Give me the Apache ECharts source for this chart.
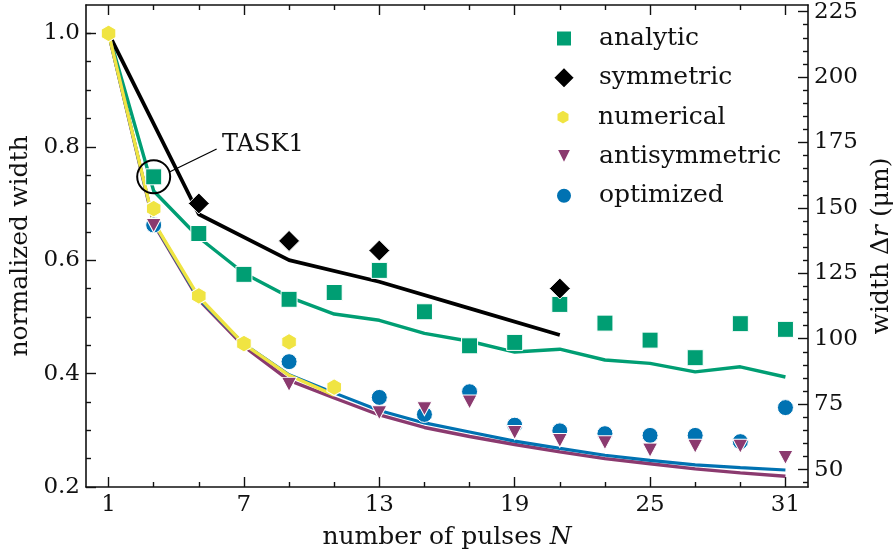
<!DOCTYPE html>
<html>
<head>
<meta charset="utf-8">
<script src="https://cdn.jsdelivr.net/npm/echarts@6/dist/echarts.min.js"></script>
<style>
  html, body { margin: 0; padding: 0; background: #fff; }
  #chart { width: 893px; height: 559px; }
</style>
</head>
<body>
<div id="chart"></div>
<script>
// number of pulses N (odd values)
const pulses = [1, 3, 5, 7, 9, 11, 13, 15, 17, 19, 21, 23, 25, 27, 29, 31];

// measured widths (normalized); null = not measured
const analyticPts = [null, 0.747, 0.647, 0.575, 0.531, 0.543, 0.582, 0.509, 0.449, 0.455, 0.522, 0.489, 0.459, 0.428, 0.488, 0.478];
const symmetricPts = [null, null, 0.700, null, 0.634, null, 0.617, null, null, null, 0.550, null, null, null, null, null];
const numericalPts = [1.0, 0.691, 0.537, 0.453, 0.456, 0.376, null, null, null, null, null, null, null, null, null, null];
const antisymPts = [null, 0.661, null, null, 0.381, null, 0.331, 0.338, 0.350, 0.296, 0.282, 0.278, 0.265, 0.272, 0.272, 0.252];
const optimizedPts = [null, 0.662, null, null, 0.421, null, 0.358, 0.328, 0.368, 0.309, 0.299, 0.294, 0.291, 0.291, 0.280, 0.340];

// model curves (normalized)
const analyticFit = [1.0, 0.722, 0.640, 0.577, 0.535, 0.505, 0.494, 0.471, 0.457, 0.438, 0.443, 0.424, 0.418, 0.403, 0.412, 0.394];
const symmetricFit = [1.0, null, 0.681, null, 0.600, null, 0.562, null, 0.515, null, 0.468, null, null, null, null, null];
const numericalFit = [1.0, 0.667, 0.535, 0.452, 0.397, 0.362, null, null, null, null, null, null, null, null, null, null];
const optimizedFit = [1.0, 0.666, 0.532, 0.452, 0.398, 0.366, 0.335, 0.313, 0.297, 0.281, 0.268, 0.256, 0.247, 0.239, 0.234, 0.230];
const antisymFit = [1.0, 0.664, 0.530, 0.448, 0.388, 0.357, 0.327, 0.305, 0.289, 0.275, 0.262, 0.250, 0.241, 0.232, 0.225, 0.219];

// tick values
const xMajorTicks = [1, 7, 13, 19, 25, 31];
const xMinorTicks = [3, 5, 9, 11, 15, 17, 21, 23, 27, 29];
const yMajorTicks = [0.2, 0.4, 0.6, 0.8, 1.0];
const yMinorTicks = [0.25, 0.3, 0.35, 0.45, 0.5, 0.55, 0.65, 0.7, 0.75, 0.85, 0.9, 0.95, 1.0];
const rMajorTicks = [50, 75, 100, 125, 150, 175, 200, 225];
const rMinorTicks = [45, 55, 60, 65, 70, 80, 85, 90, 95, 105, 110, 115, 120, 130, 135, 140, 145, 155, 160, 165, 170, 180, 185, 190, 195, 205, 210, 215, 220];

// width in micrometres that corresponds to normalized width 1
const widthScale = 216.7;

const FONT = 'DejaVu Serif';
const INK = '#111111';
const C = {
  analytic: '#009E73',
  symmetric: '#000000',
  numerical: '#F0E442',
  antisym: '#8B3A6F',
  optimized: '#0072B2'
};
const HEX = 'path://M0.866,0L1.732,0.5L1.732,1.5L0.866,2L0,1.5L0,0.5Z';
const TRI_DOWN = 'path://M0,0L2,0L1,2Z';

const pairs = (vals) => pulses.map((n, i) => vals[i] == null ? null : [n, vals[i]]).filter(Boolean);

function curve(name, vals, color, width, z) {
  return {
    name, type: 'line', data: pairs(vals), symbol: 'none', z,
    lineStyle: { color, width }, silent: true, animation: false
  };
}
function points(name, vals, color, symbol, size, z) {
  return {
    name, type: 'scatter', data: pairs(vals), symbol, symbolSize: size, z,
    itemStyle: { color, borderColor: '#fff', borderWidth: 1, opacity: 1 },
    animation: false
  };
}

const tickLine = { color: INK, width: 1.4 };
function xAxisDef(position, ticks, len, showLine, showLabels) {
  return {
    type: 'value', min: 0, max: 32, position,
    axisLine: { show: showLine, onZero: false, lineStyle: { color: INK, width: 1.6 } },
    axisTick: { show: true, inside: true, length: len, customValues: ticks, lineStyle: tickLine },
    axisLabel: showLabels
      ? { show: true, customValues: ticks, fontFamily: FONT, fontSize: 23, color: INK, margin: 7 }
      : { show: false },
    splitLine: { show: false }
  };
}
function yAxisDef(position, min, max, ticks, len, showLine, labelFmt) {
  return {
    type: 'value', min, max, position,
    axisLine: { show: showLine, onZero: false, lineStyle: { color: INK, width: 1.6 } },
    axisTick: { show: true, inside: true, length: len, customValues: ticks, lineStyle: tickLine },
    axisLabel: labelFmt
      ? { show: true, customValues: ticks, formatter: labelFmt, fontFamily: FONT, fontSize: 23, color: INK, margin: 6 }
      : { show: false },
    splitLine: { show: false }
  };
}

const richName = {
  t: { fontFamily: FONT, fontSize: 25, color: INK },
  i: { fontFamily: FONT, fontSize: 25, color: INK, fontStyle: 'italic' }
};

const xAxes = [
  xAxisDef('bottom', xMajorTicks, 10, true, true),
  xAxisDef('bottom', xMinorTicks, 5, false, false),
  xAxisDef('top', xMajorTicks, 10, true, false),
  xAxisDef('top', xMinorTicks, 5, false, false)
];
Object.assign(xAxes[0], {
  name: '{t|number of pulses }{i|N}', nameLocation: 'middle', nameGap: 38,
  nameTextStyle: { rich: richName }
});

const yAxes = [
  yAxisDef('left', 0.2, 1.05, yMajorTicks, 10, true, (v) => v.toFixed(1)),
  yAxisDef('left', 0.2, 1.05, yMinorTicks, 5, false, null),
  yAxisDef('right', 0.2 * widthScale, 1.05 * widthScale, rMajorTicks, 10, true, (v) => String(Math.round(v))),
  yAxisDef('right', 0.2 * widthScale, 1.05 * widthScale, rMinorTicks, 5, false, null)
];
Object.assign(yAxes[0], {
  name: 'normalized width', nameLocation: 'middle', nameGap: 49, nameRotate: 90,
  nameTextStyle: { fontFamily: FONT, fontSize: 25, color: INK }
});
Object.assign(yAxes[2], {
  name: '{t|width Δ}{i|r}{t| (μm)}', nameLocation: 'middle', nameGap: 60, nameRotate: 90,
  nameTextStyle: { rich: richName }
});

// legend rows, one component each so marker sizes can differ
const legendRows = [
  { name: 'analytic', icon: 'rect', size: 16 },
  { name: 'symmetric', icon: 'diamond', size: 22 },
  { name: 'numerical', icon: HEX, size: 15 },
  { name: 'antisymmetric', icon: TRI_DOWN, size: 15 },
  { name: 'optimized', icon: 'circle', size: 16 }
];
const legends = legendRows.map((row, i) => ({
  data: [{ name: row.name, icon: row.icon }],
  orient: 'vertical',
  left: 558 - row.size / 2,
  top: 21 + i * 39.3,
  itemWidth: row.size, itemHeight: row.size,
  selectedMode: false,
  textStyle: { fontFamily: FONT, fontSize: 25, color: INK, padding: [0, 0, 0, 30 - row.size / 2] }
}));

const option = {
  backgroundColor: '#fff',
  animation: false,
  grid: { left: 86, right: 85, top: 5, bottom: 72, outerBoundsMode: 'none' },
  xAxis: xAxes,
  yAxis: yAxes,
  legend: legends,
  series: [
    curve('analytic fit', analyticFit, C.analytic, 3.4, 2),
    curve('symmetric fit', symmetricFit, C.symmetric, 3.8, 2),
    curve('antisymmetric fit', antisymFit, C.antisym, 3.4, 2),
    curve('optimized fit', optimizedFit, C.optimized, 3.2, 2),
    curve('numerical fit', numericalFit, C.numerical, 3.4, 2),
    points('optimized', optimizedPts, C.optimized, 'circle', 16, 3),
    points('antisymmetric', antisymPts, C.antisym, TRI_DOWN, [15, 14], 4),
    points('analytic', analyticPts, C.analytic, 'rect', 16, 5),
    points('symmetric', symmetricPts, C.symmetric, 'diamond', 21, 6),
    points('numerical', numericalPts, C.numerical, HEX, [14.5, 16.7], 7),
    // annotation: ring around the N = 3 analytic point, leader line and tag
    {
      name: 'ring', type: 'scatter', z: 8, silent: true,
      data: [[3, 0.747]], symbol: 'circle', symbolSize: 33,
      itemStyle: { color: 'rgba(0,0,0,0)', borderColor: '#000', borderWidth: 2, opacity: 1 }
    },
    {
      name: 'leader', type: 'line', z: 8, silent: true, symbol: 'none',
      data: [[3.72, 0.756], [5.79, 0.796]],
      lineStyle: { color: '#000', width: 1.3 }
    },
    {
      name: 'tag', type: 'scatter', z: 8, silent: true,
      data: [[5.85, 0.804]], symbolSize: 0,
      itemStyle: { opacity: 1 },
      label: { show: true, position: 'right', distance: 4, formatter: 'TASK1', fontFamily: FONT, fontSize: 24, color: INK }
    }
  ]
};

const chart = echarts.init(document.getElementById('chart'), null, { renderer: 'canvas' });
chart.setOption(option);
</script>
</body>
</html>
